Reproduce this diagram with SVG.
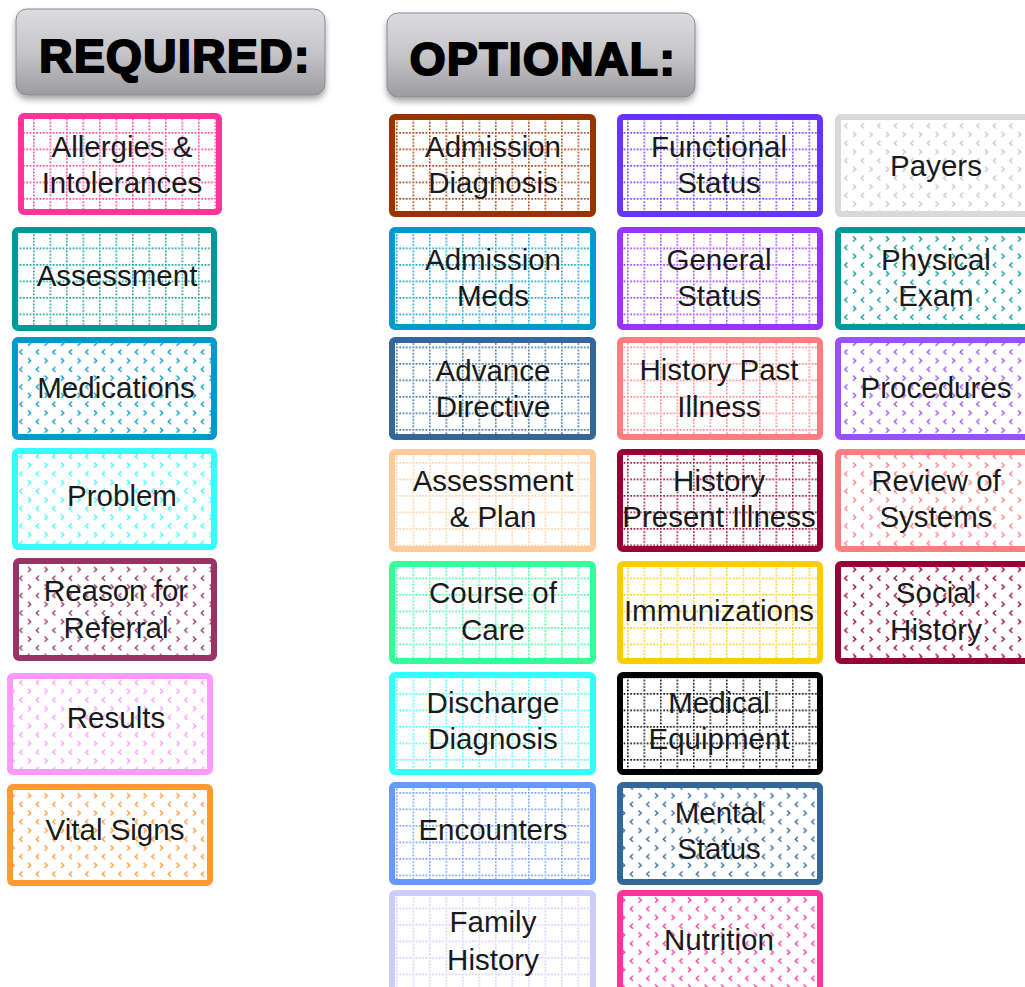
<svg xmlns="http://www.w3.org/2000/svg" width="1025" height="987" viewBox="0 0 1025 987">
<style>
.box{fill:#fff;stroke-width:6}
.lbl{font-family:"Liberation Sans",Arial,sans-serif;font-size:29.5px;fill:#1a1a1a;text-anchor:middle}
.hdr{font-family:"Liberation Sans",Arial,sans-serif;font-size:46px;font-weight:bold;fill:#000;stroke:#000;stroke-width:2.2;letter-spacing:1.5px;text-anchor:middle}
.hbox{fill:url(#gHdr);stroke:#8a8a8e;stroke-width:1;filter:url(#shadow)}
.grid{mask:url(#mGrid)}
.chev{mask:url(#mChev)}
</style>
<defs>
<linearGradient id="gHdr" x1="0" y1="0" x2="0" y2="1">
<stop offset="0" stop-color="#dcdce0"/>
<stop offset="0.5" stop-color="#c6c6ca"/>
<stop offset="1" stop-color="#9c9ca0"/>
</linearGradient>
<filter id="shadow" x="-10%" y="-20%" width="120%" height="150%">
<feDropShadow dx="0" dy="4" stdDeviation="3" flood-color="#000" flood-opacity="0.35"/>
</filter>
<pattern id="pGrid" patternUnits="userSpaceOnUse" width="16.5" height="16.5">
<path d="M0 0.8H16.5M0.8 0V16.5" stroke="#fff" stroke-width="1.6" stroke-dasharray="1.6 1.7"/>
</pattern>
<pattern id="pChev" patternUnits="userSpaceOnUse" width="16.5" height="17.4">
<polyline points="6,1.5 3.2,4 6,6.5" fill="none" stroke="#fff" stroke-width="1.3"/>
<polyline points="11.5,10.2 14.3,12.7 11.5,15.2" fill="none" stroke="#fff" stroke-width="1.3"/>
</pattern>
<mask id="mGrid" maskUnits="userSpaceOnUse" x="0" y="0" width="1025" height="987">
<rect width="1025" height="987" fill="url(#pGrid)"/>
</mask>
<mask id="mChev" maskUnits="userSpaceOnUse" x="0" y="0" width="1025" height="987">
<rect width="1025" height="987" fill="url(#pChev)"/>
</mask>
</defs>
<rect width="1025" height="987" fill="#fff"/>

<g id="hdr-required">
<rect class="hbox" x="16" y="9" width="309" height="86" rx="11"/>
<text class="hdr" x="175" y="72">REQUIRED:</text>
</g>
<g id="hdr-optional">
<rect class="hbox" x="387" y="13" width="308" height="84" rx="11"/>
<text class="hdr" x="543" y="75">OPTIONAL:</text>
</g>

<g id="connectors"></g>

<!-- Required column -->
<g id="n-allergies">
<rect class="box" x="21" y="116" width="198" height="96" rx="3" stroke="#FF3399"/>
<rect class="grid" x="24" y="119" width="192" height="90" fill="#FF3399"/>
<text class="lbl" x="122" y="157">Allergies &amp;</text>
<text class="lbl" x="122" y="193">Intolerances</text>
</g>
<g id="n-assessment">
<rect class="box" x="15" y="230" width="199" height="98" rx="3" stroke="#009999"/>
<rect class="grid" x="18" y="233" width="193" height="92" fill="#009999"/>
<text class="lbl" x="117" y="286">Assessment</text>
</g>
<g id="n-medications">
<rect class="box" x="15" y="340" width="199" height="97" rx="3" stroke="#0099CC"/>
<rect class="chev" x="18" y="343" width="193" height="91" fill="#0099CC"/>
<text class="lbl" x="116" y="398">Medications</text>
</g>
<g id="n-problem">
<rect class="box" x="15" y="451" width="199" height="96" rx="3" stroke="#33FFFF"/>
<rect class="chev" x="18" y="454" width="193" height="90" fill="#33FFFF"/>
<text class="lbl" x="122" y="506">Problem</text>
</g>
<g id="n-referral">
<rect class="box" x="16" y="561" width="198" height="97" rx="3" stroke="#993366"/>
<rect class="chev" x="19" y="564" width="192" height="91" fill="#993366"/>
<text class="lbl" x="116" y="601">Reason for</text>
<text class="lbl" x="116" y="638">Referral</text>
</g>
<g id="n-results">
<rect class="box" x="10" y="676" width="200" height="96" rx="3" stroke="#FF99FF"/>
<rect class="chev" x="13" y="679" width="194" height="90" fill="#FF99FF"/>
<text class="lbl" x="116" y="728">Results</text>
</g>
<g id="n-vital">
<rect class="box" x="10" y="787" width="200" height="96" rx="3" stroke="#FF9933"/>
<rect class="chev" x="13" y="790" width="194" height="90" fill="#FF9933"/>
<text class="lbl" x="115" y="840">Vital Signs</text>
</g>

<!-- Optional column 1 -->
<g id="n-adm-diag">
<rect class="box" x="392" y="117" width="201" height="97" rx="3" stroke="#993300"/>
<rect class="grid" x="395" y="120" width="195" height="91" fill="#993300"/>
<text class="lbl" x="493" y="157">Admission</text>
<text class="lbl" x="493" y="193">Diagnosis</text>
</g>
<g id="n-adm-meds">
<rect class="box" x="392" y="230" width="201" height="97" rx="3" stroke="#0099CC"/>
<rect class="grid" x="395" y="233" width="195" height="91" fill="#0099CC"/>
<text class="lbl" x="493" y="270">Admission</text>
<text class="lbl" x="493" y="306">Meds</text>
</g>
<g id="n-advance">
<rect class="box" x="392" y="340" width="201" height="97" rx="3" stroke="#336699"/>
<rect class="grid" x="395" y="343" width="195" height="91" fill="#336699"/>
<text class="lbl" x="493" y="381">Advance</text>
<text class="lbl" x="493" y="417">Directive</text>
</g>
<g id="n-assess-plan">
<rect class="box" x="392" y="452" width="201" height="97" rx="3" stroke="#FFCC99"/>
<rect class="grid" x="395" y="455" width="195" height="91" fill="#FFCC99"/>
<text class="lbl" x="493" y="491">Assessment</text>
<text class="lbl" x="493" y="527">&amp; Plan</text>
</g>
<g id="n-course">
<rect class="box" x="392" y="564" width="201" height="97" rx="3" stroke="#33FF99"/>
<rect class="grid" x="395" y="567" width="195" height="91" fill="#33FF99"/>
<text class="lbl" x="493" y="603">Course of</text>
<text class="lbl" x="493" y="640">Care</text>
</g>
<g id="n-discharge">
<rect class="box" x="392" y="675" width="201" height="97" rx="3" stroke="#33FFFF"/>
<rect class="grid" x="395" y="678" width="195" height="91" fill="#33FFFF"/>
<text class="lbl" x="493" y="713">Discharge</text>
<text class="lbl" x="493" y="749">Diagnosis</text>
</g>
<g id="n-encounters">
<rect class="box" x="392" y="785" width="201" height="97" rx="3" stroke="#6699FF"/>
<rect class="grid" x="395" y="788" width="195" height="91" fill="#6699FF"/>
<text class="lbl" x="493" y="840">Encounters</text>
</g>
<g id="n-family">
<rect class="box" x="392" y="893" width="201" height="97" rx="3" stroke="#CCCCFF"/>
<rect class="grid" x="395" y="896" width="195" height="91" fill="#CCCCFF"/>
<text class="lbl" x="493" y="932">Family</text>
<text class="lbl" x="493" y="970">History</text>
</g>

<!-- Optional column 2 -->
<g id="n-functional">
<rect class="box" x="620" y="117" width="200" height="97" rx="3" stroke="#6633FF"/>
<rect class="grid" x="623" y="120" width="194" height="91" fill="#6633FF"/>
<text class="lbl" x="719" y="157">Functional</text>
<text class="lbl" x="719" y="193">Status</text>
</g>
<g id="n-general">
<rect class="box" x="620" y="230" width="200" height="97" rx="3" stroke="#9933FF"/>
<rect class="grid" x="623" y="233" width="194" height="91" fill="#9933FF"/>
<text class="lbl" x="719" y="270">General</text>
<text class="lbl" x="719" y="306">Status</text>
</g>
<g id="n-hist-past">
<rect class="box" x="620" y="340" width="200" height="97" rx="3" stroke="#FF7C80"/>
<rect class="grid" x="623" y="343" width="194" height="91" fill="#FF7C80"/>
<text class="lbl" x="719" y="380">History Past</text>
<text class="lbl" x="719" y="417">Illness</text>
</g>
<g id="n-hist-present">
<rect class="box" x="620" y="452" width="200" height="97" rx="3" stroke="#990033"/>
<rect class="grid" x="623" y="455" width="194" height="91" fill="#990033"/>
<text class="lbl" x="719" y="491">History</text>
<text class="lbl" x="719" y="527">Present Illness</text>
</g>
<g id="n-immun">
<rect class="box" x="620" y="564" width="200" height="97" rx="3" stroke="#FFCC00"/>
<rect class="grid" x="623" y="567" width="194" height="91" fill="#FFCC00"/>
<text class="lbl" x="719" y="621">Immunizations</text>
</g>
<g id="n-med-equip">
<rect class="box" x="620" y="675" width="200" height="97" rx="3" stroke="#000000"/>
<rect class="grid" x="623" y="678" width="194" height="91" fill="#000000"/>
<text class="lbl" x="719" y="713">Medical</text>
<text class="lbl" x="719" y="749">Equipment</text>
</g>
<g id="n-mental">
<rect class="box" x="620" y="785" width="200" height="97" rx="3" stroke="#336699"/>
<rect class="chev" x="623" y="788" width="194" height="91" fill="#336699"/>
<text class="lbl" x="719" y="823">Mental</text>
<text class="lbl" x="719" y="859">Status</text>
</g>
<g id="n-nutrition">
<rect class="box" x="620" y="893" width="200" height="97" rx="3" stroke="#FF3399"/>
<rect class="chev" x="623" y="896" width="194" height="91" fill="#FF3399"/>
<text class="lbl" x="719" y="950">Nutrition</text>
</g>

<!-- Optional column 3 -->
<g id="n-payers">
<rect class="box" x="838" y="117" width="200" height="97" rx="3" stroke="#D9D9D9"/>
<rect class="chev" x="841" y="120" width="194" height="91" fill="#C8C8C8"/>
<text class="lbl" x="936" y="176">Payers</text>
</g>
<g id="n-physical">
<rect class="box" x="838" y="230" width="200" height="97" rx="3" stroke="#009999"/>
<rect class="chev" x="841" y="233" width="194" height="91" fill="#009999"/>
<text class="lbl" x="936" y="270">Physical</text>
<text class="lbl" x="936" y="306">Exam</text>
</g>
<g id="n-procedures">
<rect class="box" x="838" y="340" width="200" height="97" rx="3" stroke="#9950FF"/>
<rect class="chev" x="841" y="343" width="194" height="91" fill="#9950FF"/>
<text class="lbl" x="936" y="398">Procedures</text>
</g>
<g id="n-review">
<rect class="box" x="838" y="452" width="200" height="97" rx="3" stroke="#FF7C80"/>
<rect class="chev" x="841" y="455" width="194" height="91" fill="#FF7C80"/>
<text class="lbl" x="936" y="491">Review of</text>
<text class="lbl" x="936" y="527">Systems</text>
</g>
<g id="n-social">
<rect class="box" x="838" y="564" width="200" height="97" rx="3" stroke="#990033"/>
<rect class="chev" x="841" y="567" width="194" height="91" fill="#990033"/>
<text class="lbl" x="936" y="603">Social</text>
<text class="lbl" x="936" y="640">History</text>
</g>
</svg>
